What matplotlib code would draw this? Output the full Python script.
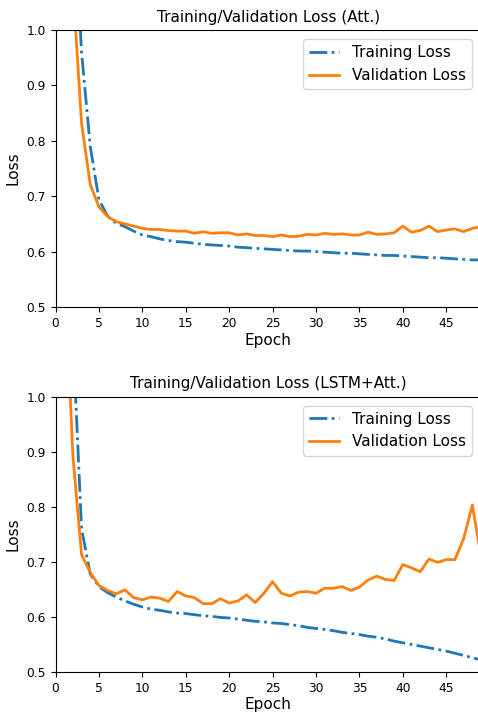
import numpy as np
import matplotlib
matplotlib.use("Agg")
import matplotlib.pyplot as plt

plt.rcParams["font.family"] = "DejaVu Sans"

epochs = list(range(1, 50))

# Att. model
att_train = [1.60, 1.25, 0.96, 0.79, 0.694, 0.664, 0.651, 0.645, 0.637, 0.630,
             0.627, 0.623, 0.620, 0.618, 0.617, 0.615, 0.613, 0.612, 0.611, 0.610,
             0.608, 0.607, 0.606, 0.605, 0.604, 0.603, 0.602, 0.601, 0.601, 0.600,
             0.599, 0.598, 0.597, 0.597, 0.596, 0.595, 0.594, 0.593, 0.593, 0.592,
             0.591, 0.590, 0.589, 0.589, 0.588, 0.587, 0.586, 0.585, 0.585]
att_val = [1.40, 1.08, 0.832, 0.721, 0.681, 0.663, 0.654, 0.650, 0.646, 0.642,
           0.640, 0.640, 0.638, 0.637, 0.637, 0.633, 0.636, 0.633, 0.634, 0.634,
           0.630, 0.632, 0.629, 0.629, 0.627, 0.630, 0.627, 0.628, 0.631, 0.630,
           0.633, 0.631, 0.632, 0.630, 0.630, 0.635, 0.631, 0.632, 0.634, 0.646,
           0.635, 0.638, 0.646, 0.636, 0.639, 0.641, 0.636, 0.642, 0.645]

# LSTM+Att. model
lstm_train = [1.50, 1.11, 0.76, 0.678, 0.655, 0.644, 0.636, 0.629, 0.623, 0.618,
              0.614, 0.612, 0.609, 0.607, 0.606, 0.604, 0.602, 0.601, 0.599, 0.598,
              0.596, 0.594, 0.592, 0.591, 0.589, 0.588, 0.586, 0.584, 0.581, 0.579,
              0.577, 0.575, 0.572, 0.570, 0.568, 0.565, 0.563, 0.560, 0.556, 0.553,
              0.550, 0.547, 0.544, 0.541, 0.538, 0.534, 0.530, 0.526, 0.522]
lstm_val = [1.25, 0.893, 0.713, 0.681, 0.657, 0.648, 0.642, 0.649, 0.635, 0.631,
            0.636, 0.634, 0.628, 0.646, 0.638, 0.635, 0.624, 0.624, 0.633, 0.625,
            0.629, 0.640, 0.626, 0.643, 0.664, 0.643, 0.638, 0.645, 0.646, 0.643,
            0.652, 0.652, 0.655, 0.648, 0.654, 0.667, 0.674, 0.668, 0.666, 0.695,
            0.689, 0.682, 0.705, 0.699, 0.704, 0.704, 0.742, 0.803, 0.710]

panels = [
    ("Training/Validation Loss (Att.)", att_train, att_val),
    ("Training/Validation Loss (LSTM+Att.)", lstm_train, lstm_val),
]

W, H = 478, 713
fig = plt.figure(figsize=(W / 100, H / 100), dpi=100)
left = 55.5 / W
width = (481 - 55.5) / W
boxes = [(1 - 307 / H, 277 / H), (1 - 672 / H, 275.5 / H)]

for (title, train, val), (bottom, height) in zip(panels, boxes):
    ax = fig.add_axes([left, bottom, width, height])
    ax.plot(epochs, train, "-.", color="#1f77b4", lw=2, label="Training Loss")
    ax.plot(epochs, val, "-", color="#ff7f0e", lw=2, label="Validation Loss")
    ax.set_xlim(0, 49)
    ax.set_ylim(0.5, 1.0)
    ax.set_xticks(range(0, 50, 5))
    ax.set_yticks([0.5, 0.6, 0.7, 0.8, 0.9, 1.0])
    ax.tick_params(labelsize=8.8)
    ax.set_title(title, fontsize=11)
    ax.set_xlabel("Epoch", fontsize=11, labelpad=2)
    ax.set_ylabel("Loss", fontsize=11)
    ax.legend(loc="upper right", fontsize=11, borderaxespad=0.6)

fig.savefig("out.png", dpi=100)
